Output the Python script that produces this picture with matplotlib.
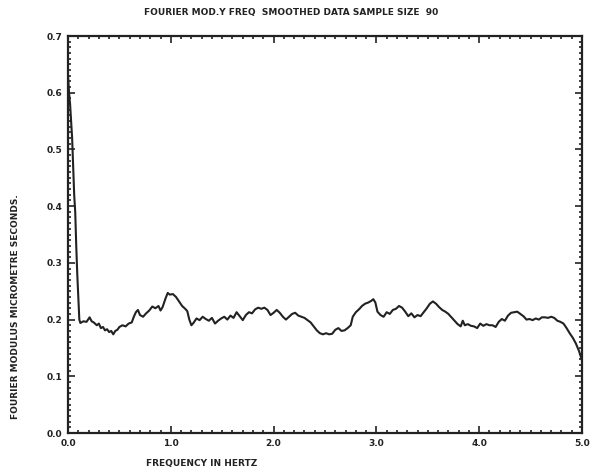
import matplotlib
matplotlib.use("Agg")
import matplotlib.pyplot as plt
from matplotlib.ticker import MultipleLocator

# Smoothed Fourier modulus against frequency (sample size 90)
freq = [
    0.00, 0.01, 0.02, 0.03, 0.04, 0.05, 0.06, 0.07, 0.08, 0.09, 0.10, 0.11,
    0.12, 0.15, 0.18, 0.21, 0.23, 0.25, 0.28, 0.30, 0.32, 0.34, 0.36, 0.38,
    0.40, 0.42, 0.44, 0.46, 0.48, 0.50, 0.53, 0.56, 0.59, 0.62, 0.64, 0.66,
    0.68, 0.70, 0.73, 0.76, 0.79, 0.82, 0.85, 0.88, 0.90, 0.92, 0.95, 0.97,
    0.99, 1.02, 1.05, 1.08, 1.11, 1.14, 1.16, 1.18, 1.20, 1.22, 1.25, 1.28,
    1.31, 1.34, 1.37, 1.40, 1.43, 1.46, 1.49, 1.52, 1.55, 1.58, 1.61, 1.64,
    1.67, 1.70, 1.73, 1.76, 1.79, 1.82, 1.85, 1.88, 1.91, 1.94, 1.97, 2.00,
    2.03, 2.06, 2.09, 2.12, 2.15, 2.18, 2.21, 2.24, 2.27, 2.30, 2.33, 2.36,
    2.39, 2.42, 2.45, 2.48, 2.51, 2.54, 2.57, 2.60, 2.63, 2.66, 2.69, 2.72,
    2.75, 2.77, 2.80, 2.83, 2.86, 2.89, 2.92, 2.95, 2.97, 2.99, 3.01, 3.04,
    3.07, 3.10, 3.13, 3.16, 3.19, 3.22, 3.25, 3.28, 3.31, 3.34, 3.37, 3.40,
    3.43, 3.46, 3.49, 3.52, 3.55, 3.58, 3.61, 3.64, 3.67, 3.70, 3.73, 3.76,
    3.79, 3.82, 3.84, 3.86, 3.89, 3.92, 3.95, 3.98, 4.01, 4.04, 4.07, 4.10,
    4.13, 4.16, 4.19, 4.22, 4.25, 4.28, 4.31, 4.34, 4.37, 4.40, 4.43, 4.46,
    4.49, 4.52, 4.55, 4.58, 4.61, 4.64, 4.67, 4.70, 4.73, 4.76, 4.79, 4.82,
    4.85, 4.88, 4.91, 4.94, 4.97, 5.00,
]
modulus = [
    0.630, 0.600, 0.580, 0.550, 0.520, 0.470, 0.420, 0.390, 0.330, 0.280, 0.240, 0.200,
    0.194, 0.197, 0.196, 0.204, 0.197, 0.195, 0.190, 0.193, 0.185, 0.187, 0.181, 0.183,
    0.178, 0.180, 0.174, 0.180, 0.182, 0.187, 0.190, 0.188, 0.193, 0.195, 0.205, 0.213,
    0.217, 0.208, 0.205, 0.211, 0.216, 0.223, 0.220, 0.224, 0.216, 0.222, 0.238, 0.247,
    0.244, 0.245, 0.240, 0.232, 0.224, 0.219, 0.215, 0.200, 0.190, 0.194, 0.202, 0.199,
    0.205, 0.201, 0.198, 0.203, 0.193, 0.198, 0.202, 0.205, 0.200, 0.207, 0.203, 0.213,
    0.206, 0.199, 0.208, 0.213, 0.211, 0.218, 0.221, 0.219, 0.221, 0.217, 0.208, 0.212,
    0.217, 0.212, 0.205, 0.200, 0.205, 0.210, 0.212, 0.207, 0.205, 0.203, 0.199, 0.195,
    0.188, 0.181, 0.176, 0.174, 0.176, 0.174, 0.175, 0.182, 0.185, 0.180, 0.181, 0.185,
    0.190, 0.205, 0.213, 0.218, 0.224, 0.228, 0.230, 0.233, 0.236, 0.230, 0.214, 0.208,
    0.205, 0.213, 0.210, 0.217, 0.219, 0.224, 0.221, 0.214, 0.206, 0.211, 0.204, 0.208,
    0.206, 0.213, 0.220, 0.228, 0.232, 0.228, 0.222, 0.217, 0.214, 0.210, 0.204, 0.198,
    0.192, 0.188, 0.198, 0.190, 0.192, 0.189, 0.188, 0.185, 0.193, 0.189, 0.192, 0.190,
    0.190, 0.187, 0.196, 0.201, 0.198, 0.207, 0.212, 0.213, 0.214, 0.210, 0.206, 0.200,
    0.201, 0.199, 0.202, 0.200, 0.204, 0.204, 0.203, 0.205, 0.203, 0.198, 0.196, 0.193,
    0.185, 0.176, 0.168, 0.158, 0.145, 0.128,
]

plt.rcParams["font.family"] = "DejaVu Sans"
plt.rcParams["font.weight"] = "bold"

fig = plt.figure(figsize=(5.92, 4.72), dpi=100)
ax = fig.add_axes([0.1149, 0.0826, 0.8682, 0.8411])

ax.plot(freq, modulus, color="#222222", lw=1.5)

ax.set_xlim(0, 5)
ax.set_ylim(0, 0.7)
ax.xaxis.set_major_locator(MultipleLocator(1.0))
ax.xaxis.set_minor_locator(MultipleLocator(0.1))
ax.yaxis.set_major_locator(MultipleLocator(0.1))
ax.yaxis.set_minor_locator(MultipleLocator(0.01))
ax.xaxis.set_major_formatter(lambda v, _: f"{v:.1f}")
ax.yaxis.set_major_formatter(lambda v, _: f"{v:.1f}")
ax.tick_params(which="both", direction="in", top=True, right=True,
               colors="#222222", labelsize=6.5, width=1.2)
ax.tick_params(which="major", length=5, pad=4)
ax.tick_params(which="minor", length=2.5)
for spine in ax.spines.values():
    spine.set_linewidth(1.6)
    spine.set_color("#222222")

fig.text(0.492, 0.974, "FOURIER MOD.Y FREQ  SMOOTHED DATA SAMPLE SIZE  90",
         ha="center", va="center", fontsize=6.5, color="#222222")
fig.text(0.34, 0.017, "FREQUENCY IN HERTZ", ha="center", va="center",
         fontsize=6.5, color="#222222")
fig.text(0.026, 0.35, "FOURIER MODULUS MICROMETRE SECONDS.", ha="center",
         va="center", rotation=90, fontsize=6.5, color="#222222")

fig.savefig("out.png", dpi=100, facecolor="white")
